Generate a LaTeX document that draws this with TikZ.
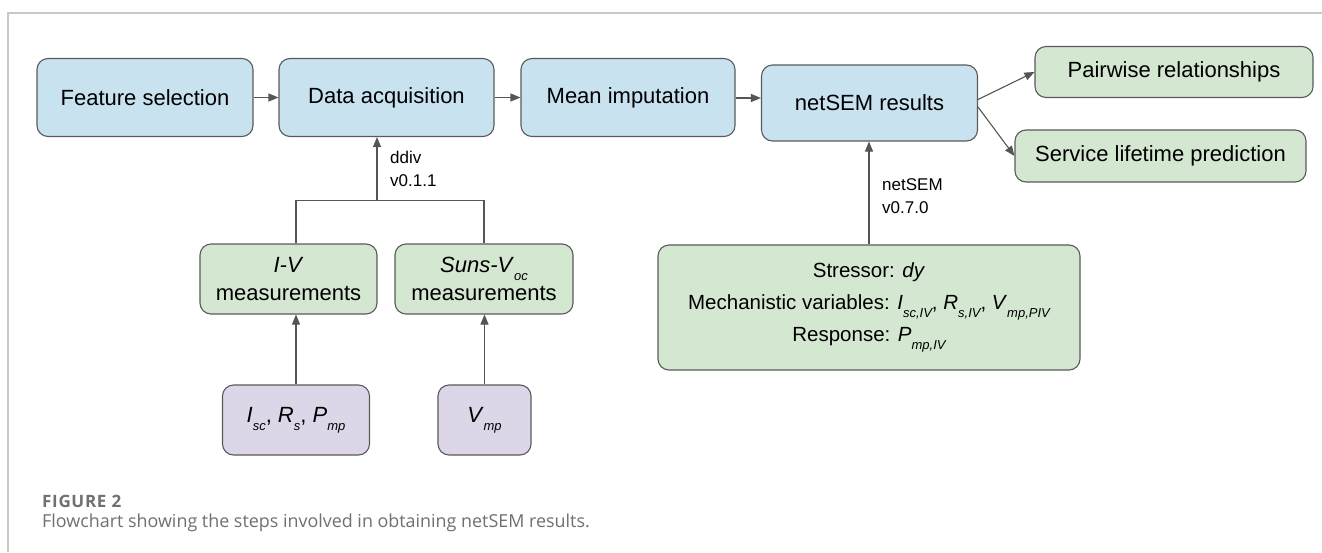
\documentclass[tikz,border=0pt]{standalone}
\usepackage{fontspec}
\setmainfont{Liberation Sans}
\newfontfamily\capfont{Open Sans}
\newfontfamily\capfontsp[LetterSpace=4]{Open Sans}
\usetikzlibrary{arrows.meta}
\definecolor{bluef}{HTML}{C9E2F0}
\definecolor{greenf}{HTML}{D4E7D1}
\definecolor{purplef}{HTML}{DDD5E8}
\definecolor{edgec}{HTML}{5A5A5A}
\definecolor{arrc}{HTML}{555555}
\definecolor{framec}{HTML}{C8C8C8}
\definecolor{capc}{HTML}{707070}
\newcommand{\sbs}[1]{\raisebox{-0.38em}{\fontsize{13}{13}\selectfont\itshape #1}}
\tikzset{
  box/.style={draw=edgec, line width=1.1pt, rounded corners=11pt, align=center, inner sep=0pt,
    font=\fontsize{22}{28}\selectfont},
  bluebox/.style={box, fill=bluef},
  greenbox/.style={box, fill=greenf},
  purplebox/.style={box, fill=purplef},
  arr/.style={draw=arrc, line width=1.1pt, -{Triangle[length=10pt,width=8pt]}},
  ln/.style={draw=arrc, line width=1.1pt},
  lbl/.style={font=\fontsize{17}{23}\selectfont, align=left, inner sep=0pt, anchor=west}
}
\begin{document}
\begin{tikzpicture}[x=1pt,y=-1pt]
\useasboundingbox (0,0) rectangle (1322,552);
\fill[white] (0,0) rectangle (1322,552);
% frame
\draw[framec, line width=1.2pt] (8,552) -- (8,13) -- (1322,13);
% top row
\node[bluebox, minimum width=216pt, minimum height=78pt] (fs) at (145,97.5) {Feature selection};
\node[bluebox, minimum width=215pt, minimum height=78pt] (da) at (386.5,97.5) {Data acquisition};
\node[bluebox, minimum width=214pt, minimum height=78pt] (mi) at (628,97.5) {Mean imputation};
\node[bluebox, minimum width=216pt, minimum height=76pt] (ns) at (869.5,103) {netSEM results};
\node[greenbox, minimum width=278pt, minimum height=51pt] (pr) at (1174,72) {Pairwise relationships};
\node[greenbox, minimum width=291pt, minimum height=52pt] (sl) at (1160.5,156) {Service lifetime prediction};
% measurement boxes
\node[greenbox, minimum width=177pt, minimum height=70pt] (iv) at (288.5,279) {\textit{I-V}\\measurements};
\node[greenbox, minimum width=178pt, minimum height=70pt] (sv) at (484,279) {\textit{Suns-V}\sbs{oc}\\measurements};
\node[purplebox, minimum width=147pt, minimum height=70pt] (p1) at (296,420) {\textit{I}\sbs{sc}, \textit{R}\sbs{s}, \textit{P}\sbs{mp}};
\node[purplebox, minimum width=93pt, minimum height=70pt] (p2) at (484.5,420) {\textit{V}\sbs{mp}};
\node[greenbox, minimum width=422pt, minimum height=125pt, font=\fontsize{20.5}{30}\selectfont] (st) at (869,307.5)
  {Stressor: \textit{dy}\\[2pt]Mechanistic variables: \textit{I}\sbs{sc,IV}, \textit{R}\sbs{s,IV}, \textit{V}\sbs{mp,PIV}\\[2pt]Response: \textit{P}\sbs{mp,IV}};
% connectors top row
\draw[arr] (fs.east) -- (da.west);
\draw[arr] (da.east) -- (mi.west);
\draw[arr] (mi.east |- 0,98) -- (ns.west |- 0,98);
\coordinate (nsr1) at (977,100);
\coordinate (nsr2) at (978,107);
\draw[arr] (nsr1) -- (pr.west);
\draw[arr] (nsr2) -- (sl.west);
% ddiv merge
\coordinate (jn) at (377,200.5);
\draw[ln] (iv.north -| 296,0) -- (296,200.5) -- (484,200.5) -- (sv.north);
\draw[arr] (jn) -- (jn |- da.south);
\node[lbl] (ddiv) at (390,169) {ddiv\\v0.1.1};
% purple to measurement
\draw[arr] (p1.north) -- (p1.north |- iv.south);
\draw[arr] (p2.north) -- (p2.north |- sv.south);
% netSEM
\draw[arr] (st.north) -- (st.north |- ns.south);
\node[lbl] (nsl) at (882,196) {netSEM\\v0.7.0};
% caption
\node[anchor=base west, inner sep=0pt, text=capc, font=\capfontsp\bfseries\fontsize{17}{20}\selectfont] (cap1) at (42,507) {FIGURE 2};
\node[anchor=base west, inner sep=0pt, text=capc, font=\capfont\fontsize{17.9}{20}\selectfont] (cap2) at (42,527) {Flowchart showing the steps involved in obtaining netSEM results.};
\end{tikzpicture}
\end{document}
